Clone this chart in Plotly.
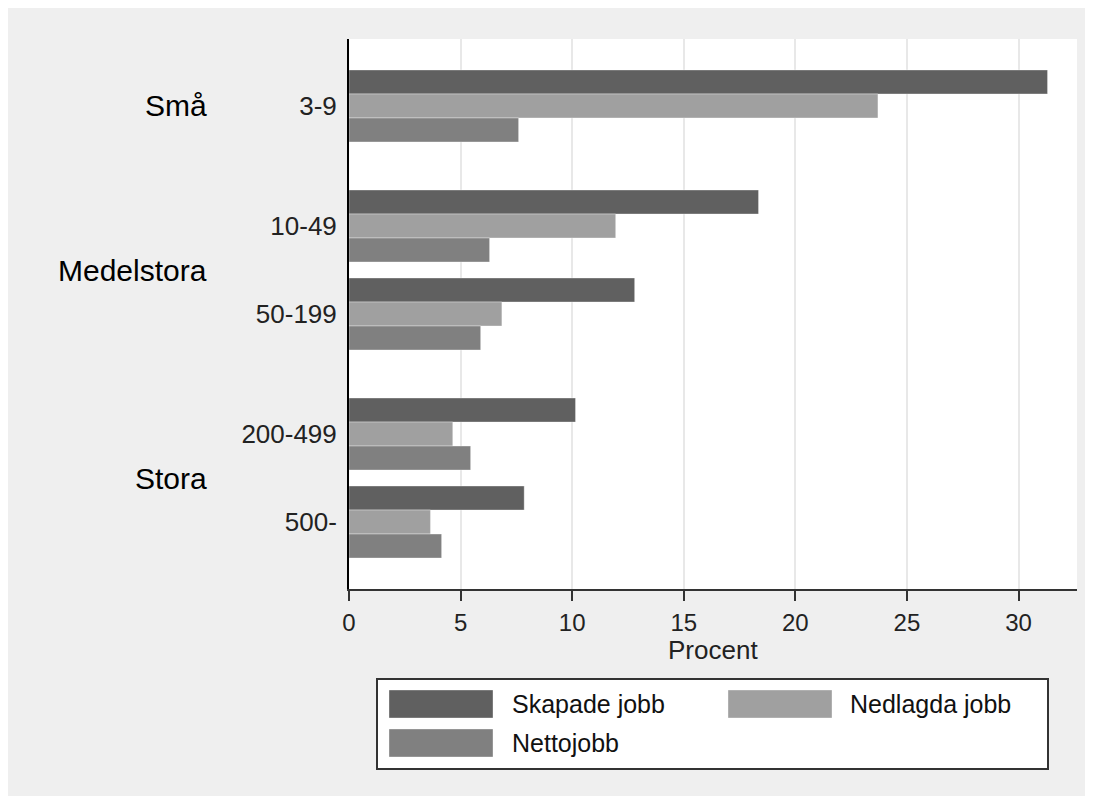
import plotly.graph_objects as go

# firm size classes, grouped
groups = ["Små", "Medelstora", "Stora"]
sizes = [["3-9"], ["10-49", "50-199"], ["200-499", "500-"]]

series_names = ["Skapade jobb", "Nedlagda jobb", "Nettojobb"]
skapade = [31.3, 18.35, 12.8, 10.15, 7.85]
nedlagda = [23.7, 11.95, 6.85, 4.65, 3.65]
netto = [7.6, 6.3, 5.9, 5.45, 4.15]
colors = ["#606060", "#a0a0a0", "#808080"]

x_ticks = [0, 5, 10, 15, 20, 25, 30]

# page has an 8px body margin, figure starts at (8, 8)
OX, OY = 8, 8
W, H = 1085, 788
ML, MR, MT, MB = 341, 16, 31, 207
PW, PH = W - ML - MR, H - MT - MB

# y positions: bigger gap between groups, small gap inside a group
small_gap, big_gap = 0.222, 0.667
centers, labels, group_mid = [], [], []
y = 0.0
for gi, subs in enumerate(sizes):
    if gi > 0:
        y += 1 + big_gap
    first = y
    for j, s in enumerate(subs):
        if j > 0:
            y += 1 + small_gap
        centers.append(y)
        labels.append(s)
    group_mid.append((first + y) / 2)

pad = 0.93
y_range = [centers[-1] + pad, centers[0] - pad]


def px(xs, ys):
    # screen pixel -> paper coords
    return (xs - OX - ML) / PW, (MT + PH - (ys - OY)) / PH


FONT = "Liberation Sans, Arial, sans-serif"

fig = go.Figure()
for i, (name, vals) in enumerate(zip(series_names, [skapade, nedlagda, netto])):
    fig.add_trace(go.Bar(
        x=vals, y=centers, orientation="h", name=name,
        width=1 / 3, offset=-0.5 + i / 3,
        marker=dict(color=colors[i], line=dict(color="rgba(255,255,255,0.35)", width=1)),
        showlegend=False,
    ))

shapes = []
annotations = []

# group labels
gx, _ = px(209, 0)
for g, m in zip(groups, group_mid):
    annotations.append(dict(text=g, x=gx, y=m, xref="paper", yref="y", xanchor="right",
                            yanchor="middle", showarrow=False,
                            font=dict(family=FONT, size=30, color="black")))

# x axis title
tx, ty = px(713, 650)
annotations.append(dict(text="Procent", x=tx, y=ty, xref="paper", yref="paper",
                        xanchor="center", yanchor="middle", showarrow=False,
                        font=dict(family=FONT, size=26, color="#222222")))

# legend box
lx0, ly0 = px(377, 769)
lx1, ly1 = px(1048, 679)
shapes.append(dict(type="rect", xref="paper", yref="paper", x0=lx0, x1=lx1, y0=ly0, y1=ly1,
                   fillcolor="white", line=dict(color="#333333", width=2)))
legend_pos = [(389, 690, 510, 704), (728, 690, 848, 704), (389, 729, 510, 743)]
for i, (sx, sy, tx, ty) in enumerate(legend_pos):
    a, b = px(sx, sy + 28)
    c, d = px(sx + 104, sy)
    shapes.append(dict(type="rect", xref="paper", yref="paper", x0=a, x1=c, y0=b, y1=d,
                       fillcolor=colors[i], line=dict(color="rgba(255,255,255,0.35)", width=1)))
    tpx, tpy = px(tx, ty)
    annotations.append(dict(text=series_names[i], x=tpx, y=tpy, xref="paper", yref="paper",
                            xanchor="left", yanchor="middle", showarrow=False,
                            font=dict(family=FONT, size=25, color="#111111")))

fig.update_layout(
    width=W, height=H,
    margin=dict(l=ML, r=MR, t=MT, b=MB, pad=0),
    paper_bgcolor="#efefef", plot_bgcolor="white",
    barmode="overlay",
    font=dict(family=FONT, color="#222222"),
    shapes=shapes, annotations=annotations,
)
fig.update_xaxes(
    range=[0, 32.62], tickvals=x_ticks, ticks="outside", ticklen=10, tickwidth=2,
    tickcolor="#333333", showline=True, linecolor="#333333", linewidth=2,
    showgrid=True, gridcolor="#e8e8e8", gridwidth=1.5, zeroline=False,
    tickfont=dict(size=24), ticklabelstandoff=1,
)
fig.update_yaxes(
    range=y_range, tickvals=centers, ticktext=labels, ticks="outside", ticklen=5,
    tickcolor="rgba(0,0,0,0)", showline=True, linecolor="black", linewidth=2,
    showgrid=False, zeroline=False, tickfont=dict(size=26),
)

fig.write_html(
    "out.html",
    post_script="document.documentElement.style.overflow='hidden';"
                "document.body.style.overflow='hidden';",
)
